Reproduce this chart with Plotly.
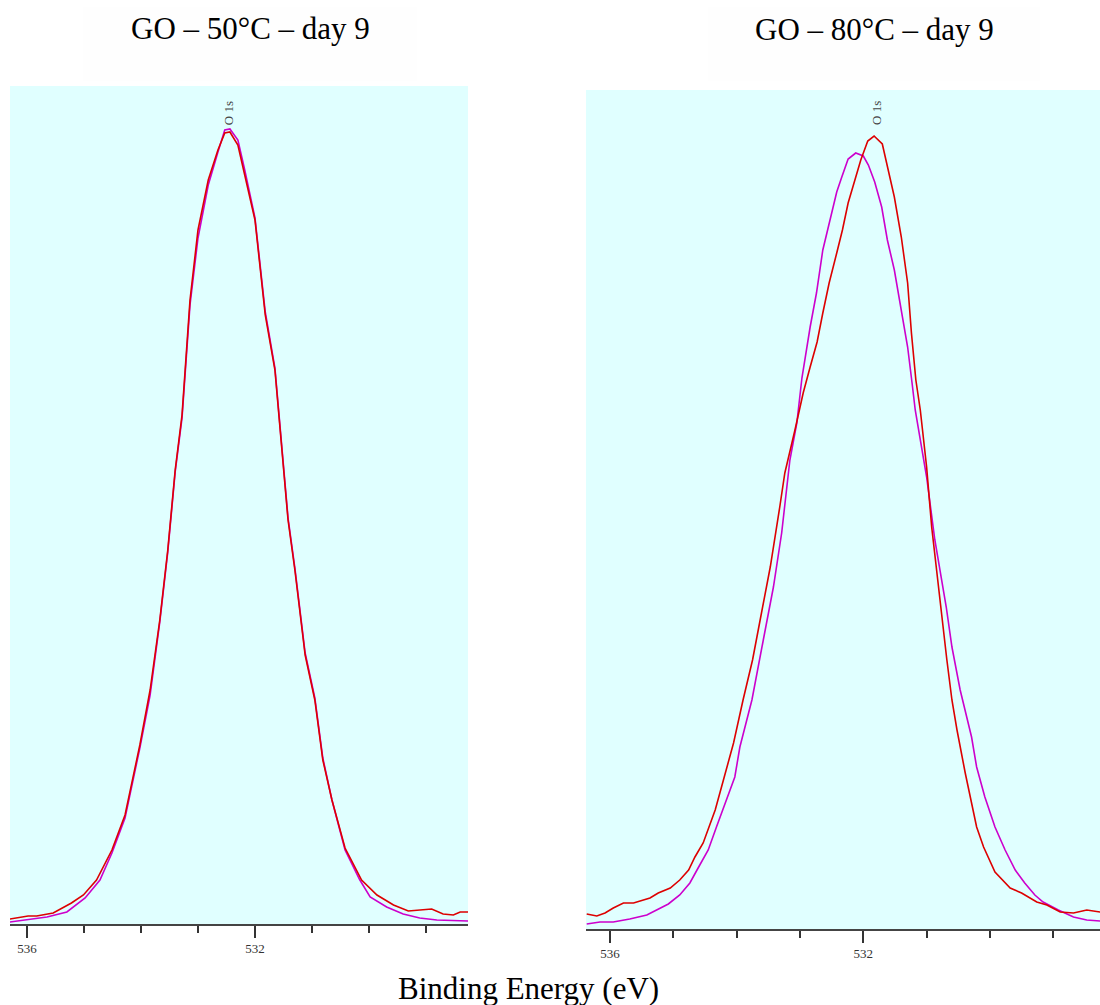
import plotly.graph_objects as go

# ---------------- data ----------------
# Left panel: GO - 50°C - day 9 (binding energy eV, intensity a.u.)
be_50_red = [536.30, 535.98, 535.83, 535.54, 535.22, 535.01, 534.78, 534.51, 534.28, 534.02,
             533.84, 533.67, 533.53, 533.40, 533.28, 533.14, 533.00, 532.82, 532.65, 532.53,
             532.44, 532.30, 532.18, 532.00, 531.82, 531.65, 531.42, 531.30, 531.12, 530.95,
             530.81, 530.65, 530.42, 530.13, 529.86, 529.57, 529.31, 529.11, 528.90, 528.70,
             528.52, 528.40, 528.26]
int_50_red = [5, 8, 8, 11, 21, 29, 44, 74, 109, 179,
              234, 304, 374, 454, 509, 624, 694, 744, 774, 791,
              792, 779, 749, 704, 609, 554, 404, 354, 269, 224,
              164, 124, 76, 44, 29, 19, 13, 14, 15, 10,
              9, 12, 12]

be_50_mag = [536.30, 535.95, 535.65, 535.30, 534.98, 534.72, 534.51, 534.28, 534.02, 533.84,
             533.67, 533.53, 533.40, 533.28, 533.14, 533.00, 532.82, 532.65, 532.53, 532.44,
             532.30, 532.18, 532.00, 531.82, 531.65, 531.42, 531.30, 531.12, 530.95, 530.81,
             530.65, 530.42, 530.16, 529.98, 529.69, 529.40, 529.11, 528.81, 528.26]
int_50_mag = [2, 5, 7, 12, 26, 44, 71, 106, 176, 229,
              302, 372, 452, 506, 619, 686, 739, 772, 794, 795,
              784, 754, 706, 612, 556, 406, 356, 271, 226, 166,
              124, 74, 44, 27, 17, 10, 6, 4, 3]

# Right panel: GO - 80°C - day 9
be_80_red = [536.37, 536.21, 536.08, 535.95, 535.79, 535.63, 535.37, 535.24, 535.05, 534.90,
             534.76, 534.66, 534.53, 534.34, 534.21, 534.05, 533.90, 533.75, 533.63, 533.47,
             533.32, 533.24, 533.08, 532.95, 532.84, 532.73, 532.64, 532.54, 532.42, 532.33,
             532.24, 532.13, 532.04, 531.93, 531.83, 531.70, 531.51, 531.40, 531.30, 531.24,
             531.17, 531.10, 531.00, 530.92, 530.79, 530.68, 530.60, 530.52, 530.39, 530.21,
             530.10, 529.92, 529.68, 529.50, 529.26, 529.10, 528.89, 528.68, 528.47, 528.26]
int_80_red = [15, 13, 16, 21, 26, 26, 31, 36, 41, 49,
              59, 72, 86, 119, 149, 186, 229, 269, 309, 362,
              422, 456, 499, 536, 562, 587, 616, 646, 676, 699,
              726, 751, 769, 788, 793, 785, 732, 692, 646, 596,
              549, 519, 462, 402, 329, 269, 229, 199, 156, 102,
              82, 57, 41, 36, 27, 24, 17, 16, 19, 17]

be_80_mag = [536.37, 536.16, 535.95, 535.69, 535.42, 535.08, 534.90, 534.74, 534.61, 534.45,
             534.32, 534.16, 534.03, 533.95, 533.76, 533.58, 533.42, 533.29, 533.16, 533.05,
             532.97, 532.84, 532.74, 532.64, 532.53, 532.42, 532.34, 532.24, 532.12, 532.00,
             531.92, 531.82, 531.71, 531.62, 531.51, 531.41, 531.30, 531.23, 531.18, 531.00,
             530.87, 530.69, 530.60, 530.47, 530.29, 530.21, 530.08, 529.92, 529.76, 529.60,
             529.45, 529.29, 529.16, 528.92, 528.68, 528.47, 528.26]
int_80_mag = [5, 7, 7, 10, 14, 25, 34, 46, 61, 79,
              102, 129, 152, 182, 229, 289, 342, 396, 469, 506,
              551, 602, 636, 679, 709, 737, 752, 770, 776, 773,
              764, 747, 722, 689, 659, 622, 582, 546, 519, 452,
              389, 322, 282, 239, 192, 162, 132, 102, 79, 59,
              46, 34, 27, 19, 12, 9, 8]

titles = ["GO – 50°C – day 9", "GO – 80°C – day 9"]
peak_label = "O 1s"
peak_pos_50 = (532.47, 811)
peak_pos_80 = (531.80, 816)
tick_vals = [536, 532]
tick_text = ["536", "532"]
x_title = "Binding Energy (eV)"

RED = "#DD0000"
MAG = "#CC00CC"
SERIF = "Liberation Serif, Times New Roman, serif"

fig = go.Figure()
fig.add_trace(go.Scatter(x=be_50_mag, y=int_50_mag, mode="lines", line=dict(color=MAG, width=1.6),
                         xaxis="x", yaxis="y", showlegend=False))
fig.add_trace(go.Scatter(x=be_50_red, y=int_50_red, mode="lines", line=dict(color=RED, width=1.6),
                         xaxis="x", yaxis="y", showlegend=False))
fig.add_trace(go.Scatter(x=be_80_mag, y=int_80_mag, mode="lines", line=dict(color=MAG, width=1.6),
                         xaxis="x2", yaxis="y2", showlegend=False))
fig.add_trace(go.Scatter(x=be_80_red, y=int_80_red, mode="lines", line=dict(color=RED, width=1.6),
                         xaxis="x2", yaxis="y2", showlegend=False))

W, H = 1100, 1005

def xd(a, b):
    return [a / W, b / W]

def yd(top, bottom):
    return [1 - bottom / H, 1 - top / H]

axis_common = dict(
    showgrid=False, zeroline=False, showline=True, linecolor="#444", linewidth=1.5,
    ticks="outside", ticklen=12, tickwidth=1.5, tickcolor="#333",
    tickvals=tick_vals, ticktext=tick_text,
    tickfont=dict(family=SERIF, size=13, color="#333"),
    minor=dict(dtick=1, tick0=0, ticks="outside", ticklen=7, tickwidth=1.5, tickcolor="#333"),
)

fig.update_layout(
    width=W, height=H,
    margin=dict(l=0, r=0, t=0, b=0),
    paper_bgcolor="white",
    plot_bgcolor="#E0FFFF",
    xaxis=dict(domain=xd(10, 468), range=[536.298, 528.263], anchor="y", **axis_common),
    yaxis=dict(domain=yd(86, 924), range=[0, 838], visible=False, anchor="x"),
    xaxis2=dict(domain=xd(586, 1100), range=[536.381, 528.261], anchor="y2", **axis_common),
    yaxis2=dict(domain=yd(90, 929), range=[0, 839], visible=False, anchor="x2"),
)

# faint boxes behind titles
fig.add_shape(type="rect", xref="paper", yref="paper", x0=83 / W, x1=417 / W,
              y0=1 - 81 / H, y1=1 - 7 / H, fillcolor="#FEFEFE", line=dict(width=0), layer="below")
fig.add_shape(type="rect", xref="paper", yref="paper", x0=708 / W, x1=1040 / W,
              y0=1 - 81 / H, y1=1 - 7 / H, fillcolor="#FEFEFE", line=dict(width=0), layer="below")

fig.add_annotation(text=titles[0], xref="paper", yref="paper", x=250 / W, y=1 - 28 / H,
                   showarrow=False, xanchor="center", yanchor="middle",
                   font=dict(family=SERIF, size=31, color="black"))
fig.add_annotation(text=titles[1], xref="paper", yref="paper", x=874 / W, y=1 - 30 / H,
                   showarrow=False, xanchor="center", yanchor="middle",
                   font=dict(family=SERIF, size=31, color="black"))
fig.add_annotation(text=x_title, xref="paper", yref="paper", x=528 / W, y=1 - 988 / H,
                   showarrow=False, xanchor="center", yanchor="middle",
                   font=dict(family=SERIF, size=31, color="black"))

fig.add_annotation(text=peak_label, xref="x", yref="y", x=peak_pos_50[0], y=peak_pos_50[1],
                   showarrow=False, textangle=-90, font=dict(family=SERIF, size=13, color="#444"))
fig.add_annotation(text=peak_label, xref="x2", yref="y2", x=peak_pos_80[0], y=peak_pos_80[1],
                   showarrow=False, textangle=-90, font=dict(family=SERIF, size=13, color="#444"))

fig.write_html("out.html")
